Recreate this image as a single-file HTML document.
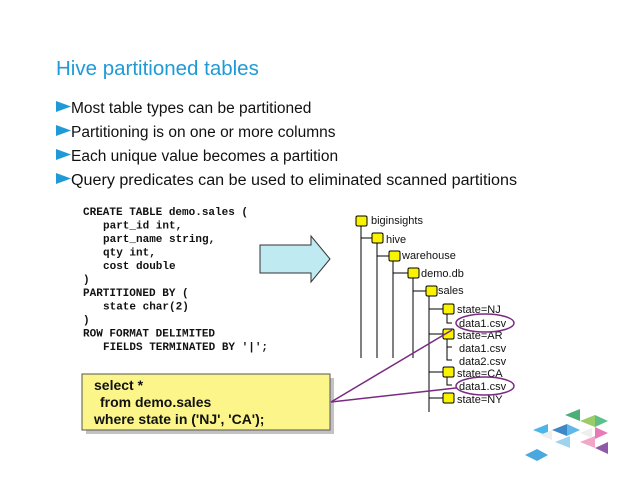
<!DOCTYPE html>
<html><head><meta charset="utf-8"><style>
html,body{margin:0;padding:0;background:#fff;}
svg{display:block;}
.t{font-family:"Liberation Sans",sans-serif;}
.c{font-family:"Liberation Mono",monospace;font-weight:bold;font-size:11px;fill:#111;}
.f{font-family:"Liberation Sans",sans-serif;font-size:11px;fill:#111;}
</style></head><body>
<svg width="638" height="493" viewBox="0 0 638 493" xmlns="http://www.w3.org/2000/svg">
<rect width="638" height="493" fill="#fff"/>
<text class="t" x="56" y="75" font-size="20.5" fill="#1f9ad6">Hive partitioned tables</text>
<g class="t" font-size="15.5" fill="#111">
<polygon points="56,101 56,112 71,106.5" fill="#1f9ad6"/>
<text x="71" y="113">Most table types can be partitioned</text>
<polygon points="56,125 56,136 71,130.5" fill="#1f9ad6"/>
<text x="71" y="137">Partitioning is on one or more columns</text>
<polygon points="56,149 56,160 71,154.5" fill="#1f9ad6"/>
<text x="71" y="161">Each unique value becomes a partition</text>
<polygon points="56,173 56,184 71,178.5" fill="#1f9ad6"/>
<text x="71" y="185" textLength="446" lengthAdjust="spacingAndGlyphs">Query predicates can be used to eliminated scanned partitions</text>
</g>
<g>
<text class="c" x="83" y="215">CREATE TABLE demo.sales (</text>
<text class="c" x="103" y="228.5">part_id int,</text>
<text class="c" x="103" y="242">part_name string,</text>
<text class="c" x="103" y="255.5">qty int,</text>
<text class="c" x="103" y="269">cost double</text>
<text class="c" x="83" y="282.5">)</text>
<text class="c" x="83" y="296">PARTITIONED BY (</text>
<text class="c" x="103" y="309.5">state char(2)</text>
<text class="c" x="83" y="323">)</text>
<text class="c" x="83" y="336.5">ROW FORMAT DELIMITED</text>
<text class="c" x="103" y="350">FIELDS TERMINATED BY '|';</text>
</g>
<polygon points="260,245 311,245 311,236 330,259 311,282 311,273 260,273" fill="#bfeaf2" stroke="#333" stroke-width="1"/>
<rect x="86" y="378" width="248" height="56" fill="#999" opacity="0.6"/>
<rect x="82" y="374" width="248" height="56" fill="#fcf68a" stroke="#555" stroke-width="1"/>
<g class="t" font-size="14" font-weight="bold" fill="#111">
<text x="94" y="390">select *</text>
<text x="100" y="407">from demo.sales</text>
<text x="94" y="424">where state in ('NJ', 'CA');</text>
</g>
<g stroke="#000" stroke-width="1" fill="none">
<line x1="361" y1="225" x2="361" y2="358"/>
<line x1="361" y1="238" x2="372" y2="238"/>
<line x1="377" y1="243" x2="377" y2="358"/>
<line x1="377" y1="256" x2="389" y2="256"/>
<line x1="393" y1="261" x2="393" y2="358"/>
<line x1="393" y1="273" x2="408" y2="273"/>
<line x1="413" y1="278" x2="413" y2="358"/>
<line x1="413" y1="291" x2="426" y2="291"/>
<line x1="429" y1="295" x2="429" y2="412"/>
<line x1="429" y1="309" x2="443" y2="309"/>
<line x1="429" y1="334" x2="443" y2="334"/>
<line x1="429" y1="372" x2="443" y2="372"/>
<line x1="429" y1="398" x2="443" y2="398"/>
<path d="M447,314 V323 H452"/>
<path d="M447,339 V360 H452 M447,347 H452"/>
<path d="M447,377 V385 H452"/>
</g>
<g fill="#f9f200" stroke="#000" stroke-width="1">
<rect x="356" y="216" width="11" height="10" rx="1.5"/>
<rect x="372" y="233" width="11" height="10" rx="1.5"/>
<rect x="389" y="251" width="11" height="10" rx="1.5"/>
<rect x="408" y="268" width="11" height="10" rx="1.5"/>
<rect x="426" y="286" width="11" height="10" rx="1.5"/>
<rect x="443" y="304" width="11" height="10" rx="1.5"/>
<rect x="443" y="329" width="11" height="10" rx="1.5"/>
<rect x="443" y="367" width="11" height="10" rx="1.5"/>
<rect x="443" y="393" width="11" height="10" rx="1.5"/>
</g>
<text class="f" x="371" y="224">biginsights</text>
<text class="f" x="386" y="243">hive</text>
<text class="f" x="402" y="259">warehouse</text>
<text class="f" x="421" y="277">demo.db</text>
<text class="f" x="438" y="294">sales</text>
<text class="f" x="457" y="313">state=NJ</text>
<text class="f" x="459" y="327">data1.csv</text>
<text class="f" x="457" y="339">state=AR</text>
<text class="f" x="459" y="352">data1.csv</text>
<text class="f" x="459" y="365">data2.csv</text>
<text class="f" x="457" y="377">state=CA</text>
<text class="f" x="459" y="390">data1.csv</text>
<text class="f" x="457" y="403">state=NY</text>
<g stroke="#7a2a82" stroke-width="1.5" fill="none">
<ellipse cx="485" cy="323" rx="29" ry="9"/>
<ellipse cx="485" cy="386" rx="29" ry="9"/>
<line x1="331" y1="402" x2="452" y2="330"/>
<line x1="331" y1="402" x2="456" y2="388"/>
</g>
<g>
<polygon points="565,415 580,409 580,421" fill="#4caf7a"/>
<polygon points="580,421 595,415 595,427" fill="#9ccc65"/>
<polygon points="595,415 608,421 595,427" fill="#5cbf88"/>
<polygon points="533,430 548,424 548,436" fill="#4db6e8"/>
<polygon points="552,430 567,424 567,436" fill="#3f88c5"/>
<polygon points="567,424 580,430 567,436" fill="#5fb8e8"/>
<polygon points="595,427 608,433 595,439" fill="#e87ab8"/>
<polygon points="555,442 570,436 570,448" fill="#9fd4f0"/>
<polygon points="580,442 595,436 595,448" fill="#f2a6c8"/>
<polygon points="595,448 608,442 608,454" fill="#8e5aa8"/>
<polygon points="525,455 537,449 548,455 537,461" fill="#4aa8e0"/>
<polygon points="540,435 552,430 552,440" fill="#eee"/>
<polygon points="580,433 592,428 592,438" fill="#eee"/>
</g>
</svg>
</body></html>
